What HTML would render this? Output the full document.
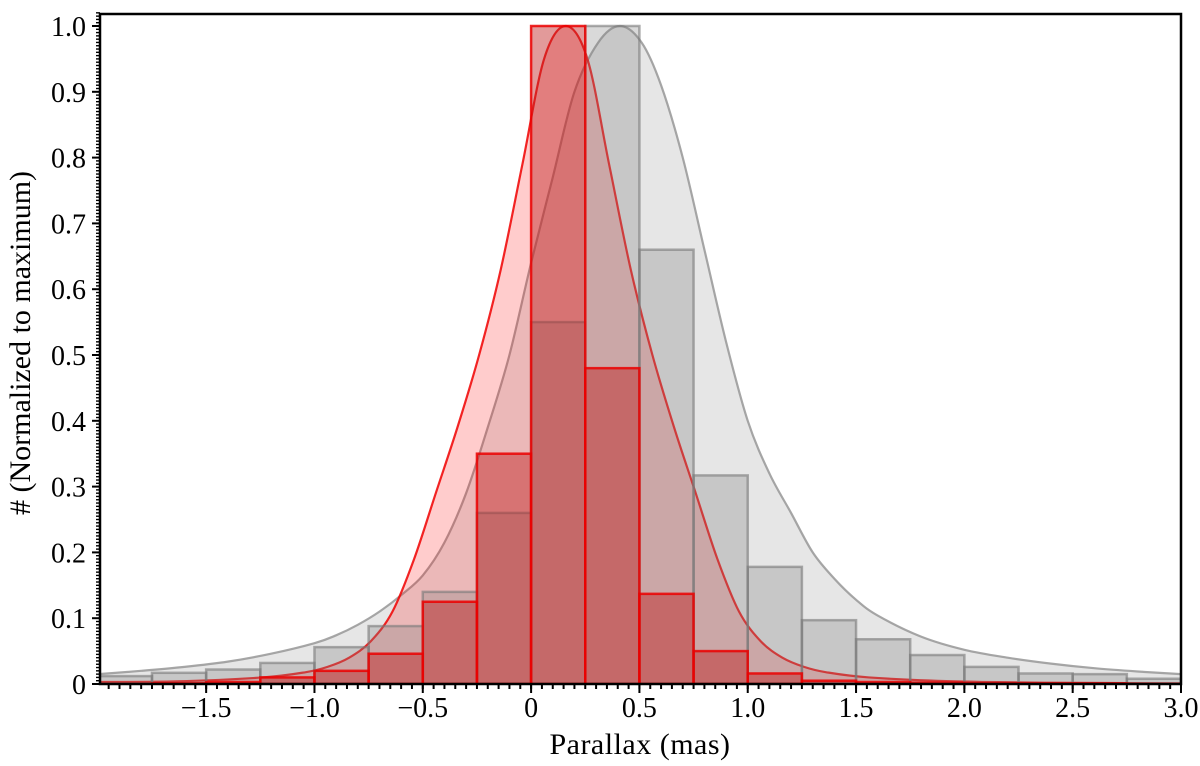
<!DOCTYPE html>
<html><head><meta charset="utf-8"><style>
html,body{margin:0;padding:0;background:#fff;}
svg{display:block;font-family:"Liberation Serif","DejaVu Serif",serif;}
</style></head><body>
<svg id="chart" width="1200" height="766" viewBox="0 0 1200 766" xmlns="http://www.w3.org/2000/svg">
<g id="plot"></g>
<g id="axes"></g>
</svg>
<script>
// ---- data ----
const binEdgesStart = [-2.0,-1.75,-1.5,-1.25,-1.0,-0.75,-0.5,-0.25,0,0.25,0.5,0.75,1.0,1.25,1.5,1.75,2.0,2.25,2.5,2.75];
const binWidth = 0.25;
const grayCounts = [0.012,0.017,0.022,0.032,0.056,0.088,0.14,0.26,0.55,1.0,0.66,0.317,0.178,0.097,0.068,0.044,0.026,0.016,0.015,0.008];
const redCounts  = [0.0,0.001,0.003,0.01,0.02,0.046,0.125,0.35,1.0,0.48,0.137,0.05,0.016,0.005,0.003,0.002,0.001,0.001,0.001,0.0];
const grayCurveX = [-2.0,-1.8,-1.6,-1.4,-1.2,-1.0,-0.9,-0.8,-0.7,-0.6,-0.5,-0.4,-0.3,-0.2,-0.1,0.0,0.1,0.2,0.31,0.41,0.51,0.6,0.7,0.8,0.9,1.0,1.1,1.2,1.3,1.4,1.5,1.6,1.8,2.0,2.2,2.4,2.6,2.8,3.0];
const grayCurveY = [0.015,0.02,0.026,0.034,0.046,0.062,0.074,0.09,0.11,0.135,0.165,0.215,0.29,0.39,0.5,0.64,0.77,0.9,0.975,1.0,0.975,0.91,0.8,0.66,0.52,0.4,0.32,0.26,0.2,0.16,0.128,0.104,0.072,0.052,0.04,0.031,0.024,0.019,0.015];
const redCurveX = [-2.0,-1.64,-1.24,-1.04,-0.94,-0.84,-0.74,-0.64,-0.54,-0.44,-0.34,-0.24,-0.14,-0.04,0.06,0.16,0.26,0.36,0.46,0.56,0.66,0.76,0.86,0.96,1.06,1.16,1.26,1.36,1.56,1.96,2.4,3.0];
const redCurveY = [0.003,0.004,0.01,0.018,0.026,0.04,0.065,0.11,0.19,0.29,0.39,0.5,0.63,0.79,0.95,1.0,0.95,0.79,0.63,0.5,0.39,0.29,0.19,0.11,0.065,0.04,0.026,0.018,0.01,0.004,0.002,0.001];
const xTicks = [-1.5,-1.0,-0.5,0,0.5,1.0,1.5,2.0,2.5,3.0];
const xTickLabels = ["\u22121.5","\u22121.0","\u22120.5","0","0.5","1.0","1.5","2.0","2.5","3.0"];
const yTicks = [0,0.1,0.2,0.3,0.4,0.5,0.6,0.7,0.8,0.9,1.0];
const yTickLabels = ["0","0.1","0.2","0.3","0.4","0.5","0.6","0.7","0.8","0.9","1.0"];

// ---- scales ----
const X0=100, X1=1181, Y0=684, Y1=14;
const xmin=-1.99, xmax=3.0;
function sx(v){return X0+(v-xmin)/(xmax-xmin)*(X1-X0);}
function sy(v){return 684 - v*658;}
const NS="http://www.w3.org/2000/svg";
const plot=document.getElementById('plot'), axes=document.getElementById('axes');
function mk(tag,attrs,parent){const e=document.createElementNS(NS,tag);for(const k in attrs)e.setAttribute(k,attrs[k]);parent.appendChild(e);return e;}

const defs=mk('defs',{},plot);
const cp=mk('clipPath',{id:'clip'},defs);
mk('rect',{x:X0,y:Y1,width:X1-X0,height:Y0-Y1},cp);
const g=mk('g',{'clip-path':'url(#clip)'},plot);

function smoothPath(xs,ys){
  const pts=xs.map((x,i)=>[sx(x),sy(ys[i])]);
  let d='M'+pts[0][0].toFixed(2)+','+pts[0][1].toFixed(2);
  for(let i=0;i<pts.length-1;i++){
    const p0=pts[i-1]||pts[i],p1=pts[i],p2=pts[i+1],p3=pts[i+2]||p2;
    const c1=[p1[0]+(p2[0]-p0[0])/6,p1[1]+(p2[1]-p0[1])/6];
    const c2=[p2[0]-(p3[0]-p1[0])/6,p2[1]-(p3[1]-p1[1])/6];
    d+='C'+c1[0].toFixed(2)+','+c1[1].toFixed(2)+' '+c2[0].toFixed(2)+','+c2[1].toFixed(2)+' '+p2[0].toFixed(2)+','+p2[1].toFixed(2);
  }
  return d;
}
function curve(xs,ys,fill,stroke,name){
  const line=smoothPath(xs,ys);
  const area=line+'L'+sx(xs[xs.length-1])+','+sy(0)+'L'+sx(xs[0])+','+sy(0)+'Z';
  const a=mk('path',{d:area,fill:fill,stroke:'none'},g);
  
  
  const l=mk('path',{d:line,fill:'none',stroke:stroke,'stroke-width':2.2},g);
  
  
}
curve(grayCurveX,grayCurveY,'rgba(128,128,128,0.2)','rgba(150,150,150,0.85)','gray-fit-curve');
curve(redCurveX,redCurveY,'rgba(255,0,0,0.2)','rgba(240,0,0,0.85)','red-fit-curve');

function bars(counts,fill,stroke,name){
  counts.forEach((c,i)=>{
    if(c<=0) return;
    const x=sx(binEdgesStart[i]), w=sx(binEdgesStart[i]+binWidth)-x;
    const r=mk('rect',{x:x,y:sy(c),width:w,height:sy(0)-sy(c),fill:fill,stroke:stroke,'stroke-width':2.5},g);
    
    
  });
}
bars(grayCounts,'rgba(128,128,128,0.3)','rgba(120,120,120,0.6)','gray-bar');
bars(redCounts,'rgba(190,30,30,0.45)','rgba(235,0,0,0.85)','red-bar');

// ---- axes ----
const frame=mk('rect',{x:X0,y:Y1,width:X1-X0,height:Y0-Y1,fill:'none',stroke:'#000','stroke-width':2.5},axes);


for(let k=-39;k<=60;k++){const v=k*0.05; if(v<xmin||v>xmax) continue; mk('line',{x1:sx(v),x2:sx(v),y1:Y0,y2:Y0+5,stroke:'#000','stroke-width':2},axes);}
xTicks.forEach((v,i)=>{
  mk('line',{x1:sx(v),x2:sx(v),y1:Y0,y2:Y0+9,stroke:'#000','stroke-width':2},axes);
  const t=mk('text',{x:sx(v),y:717,'text-anchor':'middle','font-size':28},axes);
  t.textContent=xTickLabels[i];
  
  
});
for(let k=0;k<=204;k++){const v=k*0.005; mk('line',{x1:X0-4,x2:X0,y1:sy(v),y2:sy(v),stroke:'#000','stroke-width':1.4},axes);}
yTicks.forEach((v,i)=>{
  mk('line',{x1:X0-8,x2:X0,y1:sy(v),y2:sy(v),stroke:'#000','stroke-width':2},axes);
  const t=mk('text',{x:86,y:sy(v)+10,'text-anchor':'end','font-size':28},axes);
  t.textContent=yTickLabels[i];
  
  
});
const xl=mk('text',{x:640,y:754,'text-anchor':'middle','font-size':30,'letter-spacing':'0.5'},axes);
xl.textContent='Parallax (mas)';


const yl=mk('text',{x:0,y:0,'text-anchor':'middle','font-size':30,transform:'translate(30,343) rotate(-90)'},axes);
yl.textContent='# (Normalized to maximum)';


</script>
</body></html>
